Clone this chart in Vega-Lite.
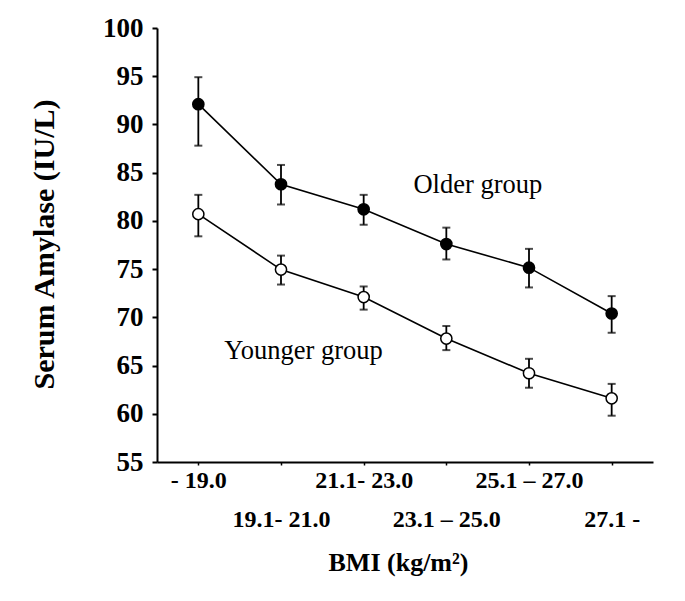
{
  "$schema": "https://vega.github.io/schema/vega-lite/v6.json",
  "width": 496,
  "height": 434,
  "autosize": {"type": "none"},
  "padding": {"left": 157, "top": 28, "right": 32, "bottom": 139},
  "background": "white",
  "config": {
    "view": {"stroke": null},
    "font": "Liberation Serif"
  },
  "datasets": {
    "stats": [
      {"bmi": "- 19.0", "group": "Older", "mean": 92.1, "lo": 87.8, "hi": 94.9},
      {"bmi": "19.1- 21.0", "group": "Older", "mean": 83.8, "lo": 81.7, "hi": 85.8},
      {"bmi": "21.1- 23.0", "group": "Older", "mean": 81.2, "lo": 79.6, "hi": 82.7},
      {"bmi": "23.1 – 25.0", "group": "Older", "mean": 77.6, "lo": 76.0, "hi": 79.3},
      {"bmi": "25.1 – 27.0", "group": "Older", "mean": 75.15, "lo": 73.1, "hi": 77.1},
      {"bmi": "27.1 -", "group": "Older", "mean": 70.4, "lo": 68.4, "hi": 72.2},
      {"bmi": "- 19.0", "group": "Younger", "mean": 80.7, "lo": 78.4, "hi": 82.7},
      {"bmi": "19.1- 21.0", "group": "Younger", "mean": 74.95, "lo": 73.4, "hi": 76.4},
      {"bmi": "21.1- 23.0", "group": "Younger", "mean": 72.1, "lo": 70.8, "hi": 73.2},
      {"bmi": "23.1 – 25.0", "group": "Younger", "mean": 67.8, "lo": 66.6, "hi": 69.1},
      {"bmi": "25.1 – 27.0", "group": "Younger", "mean": 64.2, "lo": 62.7, "hi": 65.7},
      {"bmi": "27.1 -", "group": "Younger", "mean": 61.6, "lo": 59.8, "hi": 63.1}
    ],
    "labels": [
      {"bmi": "23.1 – 25.0", "val": 82.86, "text": "Older group", "group": "Older"},
      {"bmi": "19.1- 21.0", "val": 65.65, "text": "Younger group", "group": "Younger"}
    ]
  },
  "encoding": {
    "x": {
      "field": "bmi",
      "type": "nominal",
      "scale": {
        "type": "point",
        "padding": 0.5,
        "domain": ["- 19.0", "19.1- 21.0", "21.1- 23.0", "23.1 – 25.0", "25.1 – 27.0", "27.1 -"]
      },
      "axis": {
        "title": "BMI (kg/m²)",
        "titleFont": "Liberation Serif",
        "titleFontSize": 26,
        "titleFontWeight": "bold",
        "titleColor": "black",
        "titleX": 241,
        "titleY": 108,
        "titleBaseline": "alphabetic",
        "titleAlign": "center",
        "labelAngle": 0,
        "labelFont": "Liberation Serif",
        "labelFontSize": 24,
        "labelFontWeight": "bold",
        "labelColor": "black",
        "labelPadding": 3,
        "labelLineHeight": 39,
        "labelOverlap": false,
        "labelBound": false,
        "labelFlush": false,
        "labelExpr": "indexof(['19.1- 21.0','23.1 – 25.0','27.1 -'], datum.value) >= 0 ? ['', datum.label] : datum.label",
        "domainColor": "black",
        "domainWidth": 2,
        "tickColor": "black",
        "tickWidth": 1.5,
        "tickSize": 3,
        "grid": false
      }
    }
  },
  "layer": [
    {
      "data": {"name": "stats"},
      "mark": {"type": "line", "color": "black", "strokeWidth": 1.6},
      "encoding": {
        "y": {
          "field": "mean",
          "type": "quantitative",
          "scale": {"domain": [55, 100], "nice": false, "zero": false},
          "axis": {
            "values": [55, 60, 65, 70, 75, 80, 85, 90, 95, 100],
            "title": "Serum Amylase (IU/L)",
            "titleFont": "Liberation Serif",
            "titleFontSize": 30,
            "titleFontWeight": "bold",
            "titleColor": "black",
            "titleX": -104,
            "titleY": 216,
            "titleAngle": -90,
            "titleBaseline": "alphabetic",
            "titleAlign": "center",
            "labelFont": "Liberation Serif",
            "labelFontSize": 27,
            "labelFontWeight": "bold",
            "labelColor": "black",
            "labelPadding": 9,
            "labelOverlap": false,
            "labelFlush": false,
            "domainColor": "black",
            "domainWidth": 2,
            "tickColor": "black",
            "tickWidth": 2,
            "tickSize": 5,
            "grid": false
          }
        },
        "detail": {"field": "group", "type": "nominal"}
      }
    },
    {
      "data": {"name": "stats"},
      "mark": {"type": "rule", "color": "black", "strokeWidth": 1.8},
      "encoding": {
        "y": {"field": "lo", "type": "quantitative"},
        "y2": {"field": "hi"}
      }
    },
    {
      "data": {"name": "stats"},
      "mark": {"type": "tick", "orient": "horizontal", "color": "black", "size": 8, "thickness": 2},
      "encoding": {
        "y": {"field": "lo", "type": "quantitative"}
      }
    },
    {
      "data": {"name": "stats"},
      "mark": {"type": "tick", "orient": "horizontal", "color": "black", "size": 8, "thickness": 2},
      "encoding": {
        "y": {"field": "hi", "type": "quantitative"}
      }
    },
    {
      "data": {"name": "stats"},
      "mark": {"type": "point", "shape": "circle", "size": 125, "stroke": "black", "strokeWidth": 1.5, "opacity": 1, "filled": false},
      "encoding": {
        "y": {"field": "mean", "type": "quantitative"},
        "fill": {
          "field": "group",
          "type": "nominal",
          "scale": {"domain": ["Older", "Younger"], "range": ["black", "white"]},
          "legend": null
        }
      }
    },
    {
      "data": {"name": "labels"},
      "mark": {"type": "text", "font": "Liberation Serif", "fontSize": 26.5, "color": "black", "align": "center", "baseline": "alphabetic"},
      "encoding": {
        "y": {"field": "val", "type": "quantitative"},
        "text": {"field": "text"},
        "xOffset": {"field": "group", "type": "nominal", "scale": {"domain": ["Older", "Younger"], "range": [36, 18]}, "legend": null}
      }
    }
  ]
}
